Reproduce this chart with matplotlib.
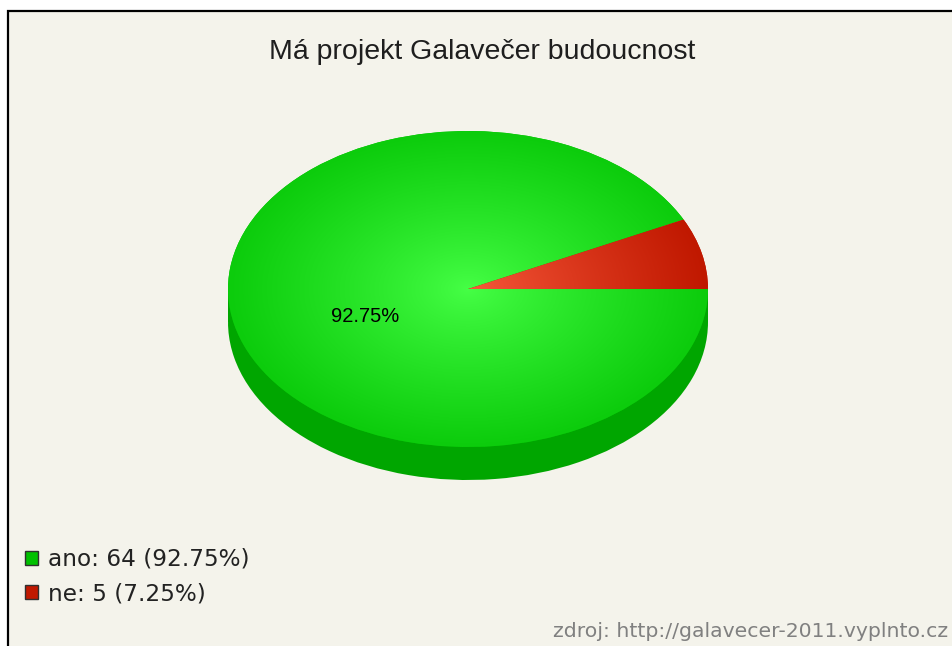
import numpy as np
import matplotlib
matplotlib.use("Agg")
import matplotlib.pyplot as plt
from matplotlib.colors import LinearSegmentedColormap
from matplotlib.patches import Rectangle

# data
labels = ['ano', 'ne']
values = [64, 5]
top_colors = [('#46ff46', '#0ccc0c'), ('#f85a3c', '#c01800')]
legend_colors = ['#00c000', '#c01800']
side_color = '#00a600'
title = 'Má projekt Galavečer budoucnost'
source = 'zdroj: http://galavecer-2011.vyplnto.cz'

plt.rcParams['font.family'] = ['Liberation Sans', 'DejaVu Sans']

W, H = 953, 646
fig = plt.figure(figsize=(W / 100, H / 100), dpi=100, facecolor='white')

# chart panel with the black frame on top/left
panel = Rectangle((8 / W, -0.05), 1.1, 1 - 11 / H + 0.05, transform=fig.transFigure,
                  facecolor='#f4f3eb', edgecolor='black', lw=1.6, zorder=-5)
fig.add_artist(panel)

total = sum(values)
pct = [100 * v / total for v in values]

# pie: ellipse 480 px wide, 316 px tall, 33 px deep
depth = 33 / 158
ax = fig.add_axes([228 / W, 1 - 480 / H, 480 / W, 349 / H])

# side of the pie (only the front half is visible)
ax.pie(values, colors=[side_color] * len(values), center=(0, -depth), radius=1,
       startangle=0, counterclock=False, wedgeprops=dict(lw=0), frame=False)
ax.add_patch(Rectangle((-1, -depth), 2, depth, facecolor=side_color, lw=0))

# top face
wedges, _ = ax.pie(values, colors=legend_colors, center=(0, 0), radius=1,
                   startangle=0, counterclock=False, wedgeprops=dict(lw=0), frame=False)

yy, xx = np.mgrid[1:-1 - depth:500j, -1:1:700j]
r = np.hypot(xx, yy) ** 0.85
for w, (c0, c1) in zip(wedges, top_colors):
    cmap = LinearSegmentedColormap.from_list('shade', [c0, c1])
    im = ax.imshow(r, cmap=cmap, vmin=0, vmax=1.0, extent=(-1, 1, -1 - depth, 1),
                   aspect='auto', origin='upper', zorder=w.get_zorder() + 0.5)
    im.set_clip_path(w)

# percentage label for the big slice
mid = np.deg2rad((wedges[0].theta1 + wedges[0].theta2) / 2)
ax.text(0.44 * np.cos(mid), 0.44 * np.sin(mid) - 0.075, f'{pct[0]:.2f}%',
        ha='center', va='center', fontsize=14.5, color='black', zorder=10)

ax.set_xlim(-1, 1)
ax.set_ylim(-1 - depth, 1)
ax.set_aspect('auto')
ax.set_axis_off()

# title
fig.text(482 / W, 1 - 59 / H, title, ha='center', va='baseline', fontsize=20.5, color='#1e1e1e')

# legend
handles = [Rectangle((0, 0), 1, 1, facecolor=c, edgecolor='#303030', lw=1.0) for c in legend_colors]
leg_labels = [f'{l}: {v} ({p:.2f}%)' for l, v, p in zip(labels, values, pct)]
fig.legend(handles, leg_labels, loc='upper left', bbox_to_anchor=(25 / W, 1 - 548 / H),
           frameon=False, prop=dict(family='DejaVu Sans', size=16.7),
           handlelength=0.56, handleheight=0.56, handletextpad=0.45, labelspacing=0.5,
           borderpad=0, borderaxespad=0, labelcolor='#222222')

# source note
fig.text(948 / W, 1 - 637 / H, source, ha='right', va='baseline', fontsize=14.7,
         color='#808080', family='DejaVu Sans')

fig.savefig('out.png', dpi=100, facecolor='white')
